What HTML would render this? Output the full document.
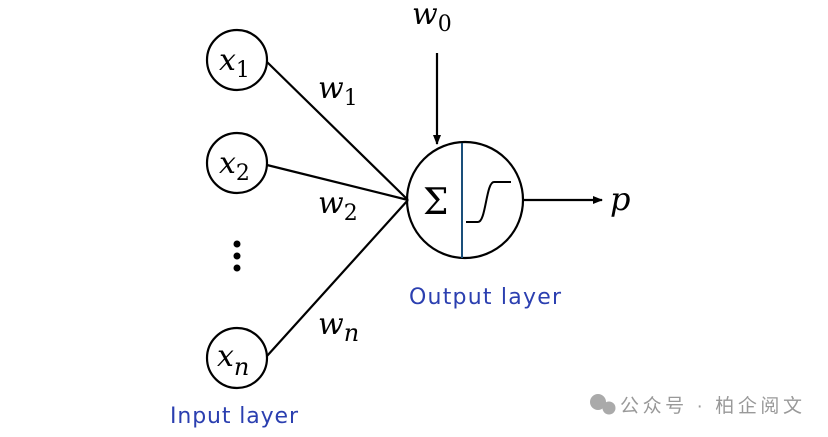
<!DOCTYPE html>
<html><head><meta charset="utf-8"><style>
html,body{margin:0;padding:0;background:#fff;}
svg{display:block}
.m{font-family:"DejaVu Serif","Liberation Serif",serif;font-style:italic;fill:#000}
.s{font-family:"DejaVu Serif","Liberation Serif",serif;fill:#000}
.b{font-family:"DejaVu Sans","Liberation Sans",sans-serif;fill:#2b3fb0}
</style></head><body>
<svg width="828" height="437" viewBox="0 0 828 437" xmlns="http://www.w3.org/2000/svg">
<defs><marker id="a" markerWidth="10" markerHeight="10" refX="9" refY="5" orient="auto" markerUnits="userSpaceOnUse"><path d="M0,1 L10,5 L0,9 Z" fill="#000"/></marker></defs>
<g stroke="#000" stroke-width="2.2" fill="none">
<circle cx="237" cy="60" r="30"/>
<circle cx="237" cy="163" r="30"/>
<circle cx="237" cy="358" r="30"/>
<circle cx="465" cy="200" r="58"/>
<line x1="267" y1="62" x2="408" y2="200"/>
<line x1="267" y1="165" x2="408" y2="200"/>
<line x1="267" y1="356" x2="408" y2="200"/>
<line x1="437" y1="53" x2="437" y2="144" marker-end="url(#a)"/>
<line x1="523" y1="200" x2="602" y2="200" marker-end="url(#a)"/>
<path d="M466,222 L478,222 C486,222 486,182 494,182 L511,182" stroke-width="2"/>
</g>
<line x1="462" y1="143" x2="462" y2="258" stroke="#1a4f7a" stroke-width="2"/>
<circle cx="237" cy="244" r="3.5"/><circle cx="237" cy="256" r="3.5"/><circle cx="237" cy="268" r="3.5"/>
<text class="m" x="219" y="70" font-size="30">x<tspan font-size="22" font-style="normal" dy="7">1</tspan></text>
<text class="m" x="219" y="173" font-size="30">x<tspan font-size="22" font-style="normal" dy="7">2</tspan></text>
<text class="m" x="217" y="366" font-size="30">x<tspan font-size="24" dy="9">n</tspan></text>
<text class="m" x="318" y="98" font-size="30">w<tspan font-size="22" font-style="normal" dy="7">1</tspan></text>
<text class="m" x="318" y="213" font-size="30">w<tspan font-size="22" font-style="normal" dy="7">2</tspan></text>
<text class="m" x="318" y="334" font-size="30">w<tspan font-size="24" dy="7">n</tspan></text>
<text class="m" x="412" y="24" font-size="30">w<tspan font-size="22" font-style="normal" dy="7">0</tspan></text>
<text class="m" x="610" y="210" font-size="32">p</text>
<text class="s" x="423" y="214" font-size="36">Σ</text>
<text class="b" x="409" y="304" font-size="22" textLength="152">Output layer</text>
<text class="b" x="170" y="423" font-size="22" textLength="128">Input layer</text>
<text x="620" y="412" font-size="19" font-family="'Liberation Sans','Noto Sans CJK SC',sans-serif" fill="#999" textLength="182">公众号 · 柏企阅文</text>
<circle cx="598" cy="402" r="8" fill="#aaa"/><circle cx="609" cy="408" r="6.5" fill="#aaa"/>
</svg>
</body></html>
